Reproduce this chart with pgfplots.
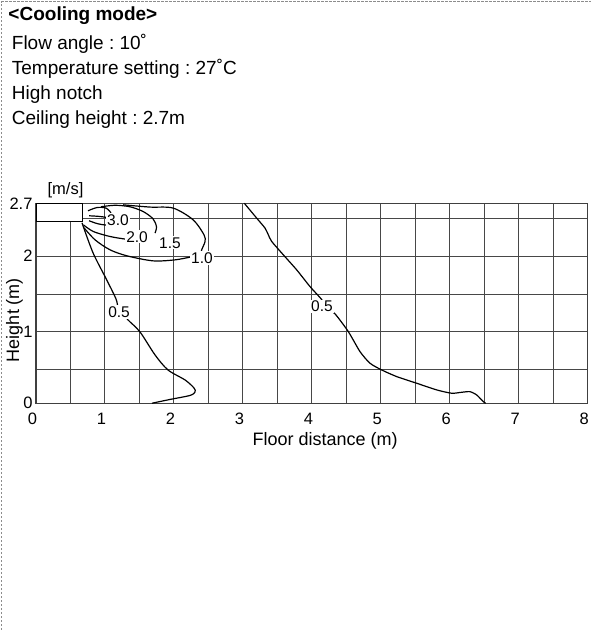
\documentclass[border=0pt]{standalone}
\usepackage{fontspec}
\setmainfont{Liberation Sans}
\usepackage{pgfplots}
\pgfplotsset{compat=1.18}
\frenchspacing
\begin{document}
\begin{tikzpicture}
\useasboundingbox (0,0) rectangle (591pt,-630pt);
\draw[black!45, line width=0.8pt, dash pattern=on 2.5pt off 1.5pt] (1.5pt,-630pt) -- (1.5pt,-1.5pt) -- (591pt,-1.5pt);
\node[anchor=base west, inner sep=0pt, font=\fontsize{19}{23}\selectfont\bfseries] at (8.3pt,-20.5pt) {<Cooling mode>};
\node[anchor=base west, inner sep=0pt, font=\fontsize{19}{23}\selectfont] at (11.7pt,-49.3pt) {Flow angle : 10˚};
\node[anchor=base west, inner sep=0pt, font=\fontsize{19}{23}\selectfont] at (11.7pt,-74.2pt) {Temperature setting : 27˚C};
\node[anchor=base west, inner sep=0pt, font=\fontsize{19}{23}\selectfont] at (11.7pt,-99.1pt) {High notch};
\node[anchor=base west, inner sep=0pt, font=\fontsize{19}{23}\selectfont] at (11.7pt,-124pt) {Ceiling height : 2.7m};
\begin{axis}[
 at={(36pt,-403.3pt)}, anchor=south west,
 scale only axis, width=551.7pt, height=200pt,
 xmin=0, xmax=8, ymin=0.055, ymax=2.7,
 xtick={0,...,8}, minor xtick={0.5,1.5,...,7.5},
 ytick={0.055,1,2,2.7}, yticklabels={{0\hspace{7pt}},{1\hspace{-1pt}},{2\hspace{-1pt}},{2.7\hspace{4pt}}},
 minor ytick={0.5,1.5,2.5},
 grid=both,
 major grid style={draw=black!72, line width=1pt},
 minor grid style={draw=black!72, line width=1pt},
 axis line style={draw=black!75, line width=1.2pt},
 major tick length=0pt, minor tick length=0pt,
 xticklabel style={xshift=-3.5pt, yshift=-6pt},
 xlabel={Floor distance (m)}, ylabel={Height (m)},
 xlabel style={at={(axis description cs:0.524,-0.19)}, anchor=center},
 ylabel style={at={(axis description cs:-0.039,0.4165)}, anchor=center, rotate=0, font=\fontsize{19.5}{21}\selectfont},
 clip=false,
 /pgf/number format/assume math mode=true,
 tick label style={font=\fontsize{16.5}{18}\selectfont},
 label style={font=\fontsize{18}{20}\selectfont},
 every axis plot/.append style={black, line width=1.2pt},
]
% outlet unit
\addplot[draw=black, fill=white, line width=1pt] coordinates {(0,2.7) (0.671,2.7) (0.671,2.459) (0,2.459) (0,2.7)};
% 3.0
\addplot[smooth] coordinates {(0.754,2.601) (0.885,2.644) (1.015,2.637) (1.088,2.574)};
\addplot[smooth] coordinates {(0.769,2.535) (0.899,2.528) (1.015,2.515) (1.10,2.50)};
\addplot[smooth] coordinates {(0.769,2.469) (0.899,2.429) (1.044,2.409) (1.131,2.416)};
% 2.0
\addplot[smooth] coordinates {(0.686,2.416) (0.831,2.327) (1.073,2.261) (1.320,2.224) (1.40,2.23)};
% 1.5
\addplot[smooth] coordinates {(0.942,2.654) (1.146,2.674) (1.363,2.654) (1.552,2.592) (1.697,2.495) (1.747,2.389) (1.726,2.306)};
% 1.0
\addplot[smooth] coordinates {(1.262,2.680) (1.653,2.650) (1.987,2.637) (2.277,2.483) (2.436,2.284) (2.451,2.195) (2.403,2.085) (2.38,2.0)};
\addplot[smooth] coordinates {(0.696,2.376) (0.856,2.217) (1.073,2.085) (1.320,2.005) (1.697,1.939) (2.016,1.952) (2.262,1.992) (2.35,1.99)};
% 0.5 left
\addplot[smooth] coordinates {(0.667,2.442) (0.827,2.045) (1.025,1.688) (1.160,1.436) (1.20,1.30) (1.334,1.158) (1.508,0.999) (1.726,0.695) (1.914,0.496) (2.161,0.364) (2.291,0.258) (2.306,0.205) (2.233,0.159) (1.943,0.106) (1.682,0.056)};
% 0.5 right
\addplot[smooth, tension=0.4] coordinates {(3.021,2.700) (3.200,2.504) (3.321,2.372) (3.369,2.283) (3.418,2.195) (3.586,2.019) (3.780,1.820) (3.973,1.599) (4.147,1.423) (4.20,1.33) (4.336,1.238) (4.529,1.003) (4.698,0.739) (4.843,0.585) (5.013,0.496) (5.231,0.408) (5.521,0.320) (5.811,0.232) (6.028,0.188) (6.173,0.201) (6.293,0.209) (6.391,0.165) (6.486,0.077) (6.521,0.056)};
% labels
\begin{scope}[every node/.style={fill=white, inner sep=1.2pt, font=\fontsize{15.5}{17}\selectfont}]
\node at (axis cs:1.189,2.482) {3.0};
\node at (axis cs:1.465,2.257) {2.0};
\node at (axis cs:1.943,2.177) {1.5};
\node at (axis cs:2.407,1.979) {1.0};
\node at (axis cs:1.204,1.264) {0.5};
\node at (axis cs:4.147,1.334) {0.5};
\end{scope}
\node[font=\fontsize{16.5}{18}\selectfont] at (axis cs:0.428,2.879) {[m/s]};
\end{axis}
\end{tikzpicture}
\end{document}
